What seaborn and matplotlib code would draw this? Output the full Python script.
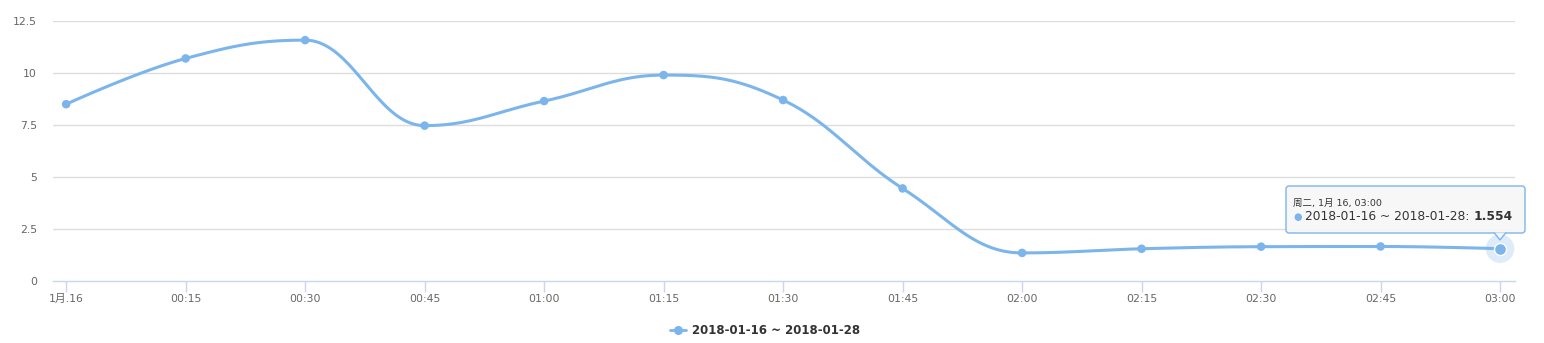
import numpy as np
import pandas as pd
import matplotlib
matplotlib.use("Agg")
import matplotlib.pyplot as plt
import seaborn as sns
from matplotlib.patches import FancyBboxPatch, Polygon
from matplotlib.transforms import IdentityTransform

categories = ["1月.16", "00:15", "00:30", "00:45", "01:00", "01:15", "01:30",
              "01:45", "02:00", "02:15", "02:30", "02:45", "03:00"]
values = [8.5, 10.7, 11.58, 7.47, 8.65, 9.9, 8.7, 4.45, 1.35, 1.55, 1.65, 1.66, 1.554]
series_name = "2018-01-16 ~ 2018-01-28"
y_ticks = [0, 2.5, 5, 7.5, 10, 12.5]
y_tick_labels = ["0", "2.5", "5", "7.5", "10", "12.5"]
tooltip_title = "周二, 1月 16, 03:00"
hover_index = 12

sns.set_theme(style="white")
plt.rcParams['font.family'] = ['DejaVu Sans', 'Noto Sans CJK SC']

W, H = 1544, 343
fig = plt.figure(figsize=(W / 100, H / 100), dpi=100)
ax = fig.add_axes([53 / W, 62 / H, (1515 - 53) / W, (281 - 21) / H])

LINE = "#7cb5ec"
xs = np.arange(len(values), dtype=float)
ys = np.array(values, dtype=float)

# Highcharts-style spline control points
smoothing = 1.5
denom = smoothing + 1
n = len(xs)
rightC = [None] * n
leftC = [None] * n
for i in range(n):
    px, py = xs[i], ys[i]
    if 0 < i < n - 1:
        lx, ly = xs[i - 1], ys[i - 1]
        nx, ny = xs[i + 1], ys[i + 1]
        lcx = (smoothing * px + lx) / denom
        lcy = (smoothing * py + ly) / denom
        rcx = (smoothing * px + nx) / denom
        rcy = (smoothing * py + ny) / denom
        corr = 0
        if rcx != lcx:
            corr = ((rcy - lcy) * (rcx - px)) / (rcx - lcx) + py - rcy
        lcy += corr
        rcy += corr
        if lcy > ly and lcy > py:
            lcy = max(ly, py); rcy = 2 * py - lcy
        elif lcy < ly and lcy < py:
            lcy = min(ly, py); rcy = 2 * py - lcy
        if rcy > ny and rcy > py:
            rcy = max(ny, py); lcy = 2 * py - rcy
        elif rcy < ny and rcy < py:
            rcy = min(ny, py); lcy = 2 * py - rcy
        leftC[i] = (lcx, lcy)
        rightC[i] = (rcx, rcy)
    else:
        leftC[i] = (px, py)
        rightC[i] = (px, py)

cx, cy = [], []
t = np.linspace(0, 1, 40)
for i in range(1, n):
    p0 = np.array([xs[i - 1], ys[i - 1]])
    p1 = np.array(rightC[i - 1])
    p2 = np.array(leftC[i])
    p3 = np.array([xs[i], ys[i]])
    pts = ((1 - t) ** 3)[:, None] * p0 + (3 * (1 - t) ** 2 * t)[:, None] * p1 \
        + (3 * (1 - t) * t ** 2)[:, None] * p2 + (t ** 3)[:, None] * p3
    cx.extend(pts[:, 0]); cy.extend(pts[:, 1])

curve = pd.DataFrame({"x": cx, "y": cy})
sns.lineplot(data=curve, x="x", y="y", sort=False, estimator=None, ax=ax,
             color=LINE, linewidth=2.2, zorder=3)
pts_df = pd.DataFrame({"x": xs, "y": ys})
sns.scatterplot(data=pts_df, x="x", y="y", ax=ax, color=LINE, s=38,
                edgecolor="none", zorder=4)
# hover halo
ax.scatter([xs[hover_index]], [ys[hover_index]], s=420, color=LINE, alpha=0.25,
           edgecolor="none", zorder=4)
ax.scatter([xs[hover_index]], [ys[hover_index]], s=75, color=LINE,
           edgecolor="white", linewidth=1, zorder=5)

ax.set_xlim(-0.11, 12.125)
ax.set_ylim(0, 12.5)
ax.set_yticks(y_ticks)
ax.set_yticklabels(y_tick_labels)
ax.set_xticks(xs)
ax.set_xticklabels(categories)
ax.set_xlabel("")
ax.set_ylabel("")
for yv in y_ticks[1:]:
    ax.axhline(yv, color="#dddddd", linewidth=1, zorder=1)
for s in ["top", "right", "left"]:
    ax.spines[s].set_visible(False)
ax.spines["bottom"].set_color("#ccd6eb")
ax.spines["bottom"].set_linewidth(1)
ax.tick_params(axis="x", length=8, width=1, color="#ccd6eb", labelsize=7.8,
               labelcolor="#666666", pad=1, bottom=True, direction="out")
ax.tick_params(axis="y", length=0, labelsize=7.8, labelcolor="#666666", pad=11.5)

# legend
ax.plot([], [], color=LINE, linewidth=2, marker="o", markersize=5.5,
        label=series_name)
leg = fig.legend(loc="center", bbox_to_anchor=(765 / W, 1 - 331 / H),
                 frameon=False, handlelength=1.4, handletextpad=0.5,
                 prop={"weight": "bold", "size": 8.5})
for txt in leg.get_texts():
    txt.set_color("#333333")

# tooltip (pixel coordinates, origin bottom-left)
tr = IdentityTransform()
bx0, bx1 = 1286, 1525
by0, by1 = H - 233, H - 186
box = FancyBboxPatch((bx0, by0), bx1 - bx0, by1 - by0,
                     boxstyle="round,pad=0,rounding_size=3", transform=tr,
                     facecolor=(0.97, 0.97, 0.97, 0.9), edgecolor=LINE,
                     linewidth=1, zorder=10)
fig.patches.append(box)
pointer = Polygon([(1494, by0 + 0.5), (1500, H - 240), (1506, by0 + 0.5)],
                  closed=False, transform=tr, facecolor=(0.97, 0.97, 0.97, 0.9),
                  edgecolor=LINE, linewidth=1, zorder=11)
fig.patches.append(pointer)
fig.text(1293, H - 203, tooltip_title, transform=tr, fontsize=6.8, color="#333333",
         va="center", ha="left", zorder=12)
fig.text(1293, H - 217, "●", transform=tr, fontsize=7, color=LINE,
         va="center", ha="left", zorder=12)
t1 = fig.text(1305, H - 217, series_name + ": ", transform=tr, fontsize=8.8,
              color="#333333", va="center", ha="left", zorder=12)
fig.canvas.draw()
bb = t1.get_window_extent()
fig.text(bb.x1, H - 217, f"{values[hover_index]:.3f}", transform=tr, fontsize=8.8,
         color="#333333", weight="bold", va="center", ha="left", zorder=12)

fig.savefig("out.png", dpi=100)
